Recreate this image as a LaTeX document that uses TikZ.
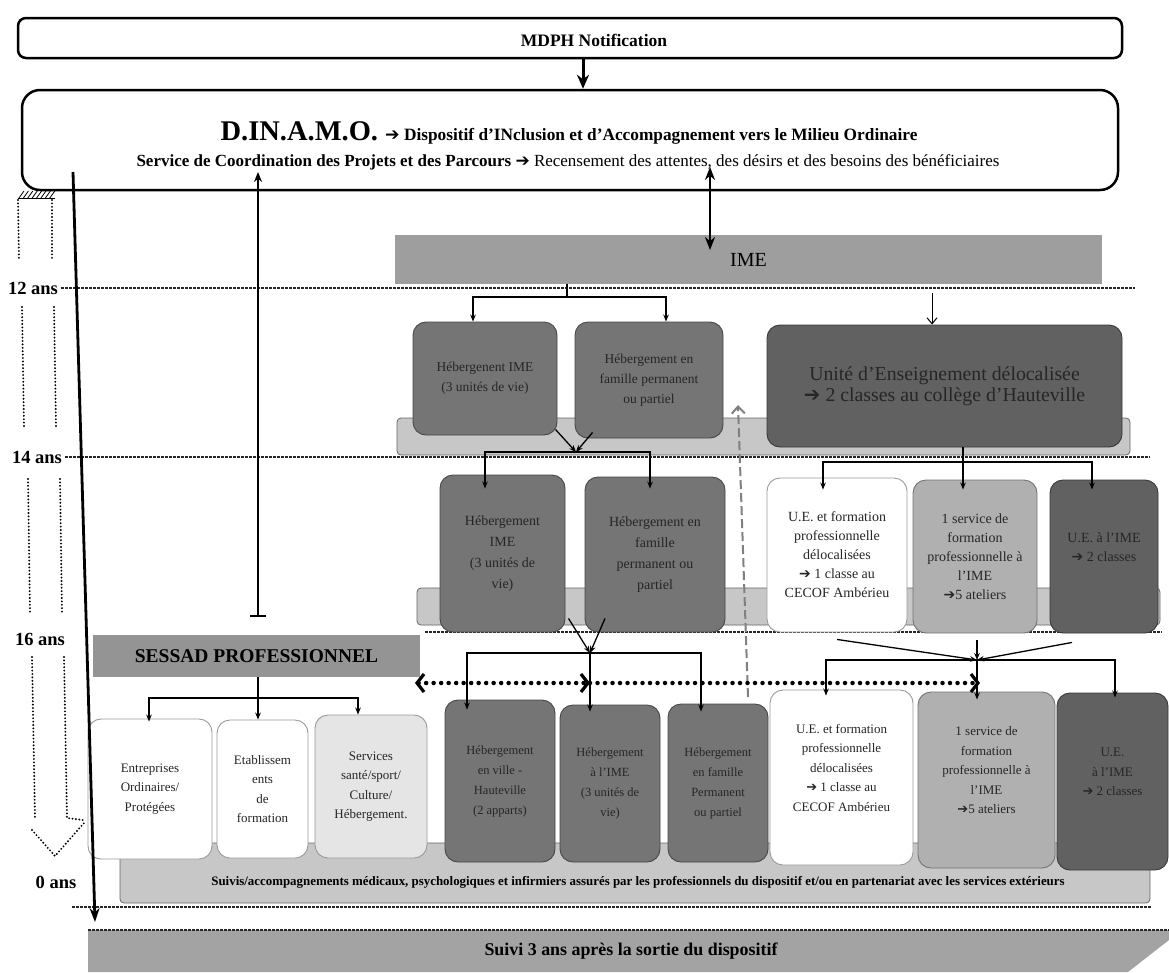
\documentclass[tikz,border=0pt]{standalone}
\usepackage{fontspec}
\setmainfont{Liberation Serif}
\newfontfamily\djv{DejaVu Sans}
\usetikzlibrary{arrows.meta,calc}
\newcommand\harr{{\djv\char"2794}}
\begin{document}
\begin{tikzpicture}[x=1pt,y=-1pt,
  box/.style={rounded corners=13pt, line width=0.9pt, align=center, inner sep=2pt, font=\fontsize{13.5}{20}\selectfont, text=black!85},
  dk/.style={box, draw=black!72, fill=black!54},
  dkk/.style={box, draw=black!78, fill=black!62},
  wt/.style={box, draw=black!40, fill=white},
  lt/.style={box, draw=black!55, fill=black!31},
  vl/.style={box, draw=black!40, fill=black!10},
  band/.style={rounded corners=4pt, draw=black!60, line width=0.8pt, fill=black!22},
  bar/.style={fill=black!38, inner sep=0pt},
  arr/.style={line width=1.3pt, -{Stealth[length=7pt,width=5.5pt]}},
  ln/.style={line width=1.3pt},
  big/.style={line width=3pt, -{Stealth[length=14pt,width=12pt]}},
  ageline/.style={line width=1.1pt, dash pattern=on 2.5pt off 1.5pt, black!85},
  agetxt/.style={font=\bfseries\fontsize{18.5}{20}\selectfont},
  dotl/.style={line width=2.1pt, line cap=round, dash pattern=on 0pt off 3.4pt},
  fat/.style={line width=4.5pt, line cap=round, dash pattern=on 0pt off 7.5pt},
  barb/.tip={Straight Barb[length=7pt,width=18pt,line width=3.2pt]},
  r1/.style={font=\fontsize{13.5}{20}\selectfont},
  r2/.style={font=\fontsize{14}{21}\selectfont},
  r2b/.style={font=\fontsize{14}{19}\selectfont},
  r3/.style={font=\fontsize{12.5}{20}\selectfont},
  r3b/.style={font=\fontsize{13}{19.5}\selectfont},
]
\useasboundingbox (0,0) rectangle (1169,972);

% ---------- age lines and labels
\node[agetxt] (a12) at (33,288) {12 ans};
\node[agetxt] (a14) at (37,457) {14 ans};
\node[agetxt] (a16) at (40,639) {16 ans};
\node[agetxt] (a0) at (56,882) {0 ans};
\draw[ageline] (a12.east) -- (1135,288);
\draw[ageline] (a14.east) -- (1150,457);
\draw[ageline] (425,632) -- (1162,632);
\draw[ageline] (72,907) -- (1152,907);

% ---------- left dotted block arrow
\draw[dotl] (18,200) -- (19,259);
\draw[dotl] (52,200) -- (52,259);
\draw[dotl] (22,307) -- (24,426);
\draw[dotl] (54,307) -- (56,426);
\draw[dotl] (28,479) -- (30,614);
\draw[dotl] (60,479) -- (62,614);
\draw[dotl] (32,657) -- (35,818);
\draw[dotl] (64,657) -- (67,818) -- (83,820);
\draw[dotl] (32,830) -- (55,856) -- (84,823);
\foreach \i in {0,...,7} \draw[line width=0.8pt] (19+4.4*\i,198) -- (24+4.4*\i,191);
\draw[line width=0.8pt] (18,198) -- (55,198);

% ---------- top boxes
\node[draw, line width=2.5pt, rounded corners=8pt, minimum width=1104pt, minimum height=40pt] (mdph) at (570,38) {};
\node[font=\bfseries\fontsize{17.5}{20}\selectfont] (mdphtxt) at (594,40) {MDPH Notification};
\node[draw, line width=2.5pt, rounded corners=18pt, minimum width=1096pt, minimum height=100pt] (dinamo) at (570,140) {};
\node (dl1) at (569,133) {\bfseries\fontsize{28.5}{32}\selectfont D.IN.A.M.O. \fontsize{17.3}{20}\selectfont\harr{} Dispositif d’INclusion et d’Accompagnement vers le Milieu Ordinaire};
\node (dl2) at (568,162) {\fontsize{17}{19}\selectfont\textbf{Service de Coordination des Projets et des Parcours} \harr{} Recensement des attentes, des désirs et des besoins des bénéficiaires};
\draw[big] (mdph.south -| 583,0) -- (dinamo.north -| 583,0);

% ---------- IME
\node[bar, minimum width=707pt, minimum height=49pt, font=\fontsize{20}{22}\selectfont] (ime) at (748.5,259.5) {\raisebox{-5pt}{IME}};
\coordinate (da) at (710,167);
\coordinate (db) at (710,250);
\draw[line width=2.8pt, {Stealth[length=13pt,width=10pt]}-{Stealth[length=13pt,width=10pt]}] (da) -- (db);

% ---------- bands
\node[band, minimum width=733pt, minimum height=37pt] (band1) at (763.5,436.5) {};
\node[band, minimum width=743pt, minimum height=37pt] (band2) at (788.5,606.5) {};
\node[band, minimum width=1030pt, minimum height=60pt] (band3) at (635,873) {};
\node[font=\bfseries\fontsize{12.9}{14}\selectfont] (suivis) at (638,882) {Suivis/accompagnements médicaux, psychologiques et infirmiers assurés par les professionnels du dispositif et/ou en partenariat avec les services extérieurs};

% ---------- row 1
\node[dk, r1, minimum width=144pt, minimum height=113pt] (h1) at (485,378.5) {Hébergenent IME\\(3 unités de vie)};
\node[dk, r1, minimum width=148pt, minimum height=116pt] (f1) at (649,380) {Hébergement en\\famille permanent\\ou partiel};
\node[dkk, font=\fontsize{19.8}{21.5}\selectfont, minimum width=355pt, minimum height=122pt] (ue1) at (944.5,386) {Unité d’Enseignement délocalisée\\\harr{} 2 classes au collège d’Hauteville};

% ---------- row 2
\node[dk, r2, minimum width=125pt, minimum height=157pt] (h2) at (502.5,553.5) {Hébergement\\IME\\(3 unités de\\vie)};
\node[dk, r2, minimum width=140pt, minimum height=155pt] (f2) at (655,554.5) {Hébergement en\\famille\\permanent ou\\partiel};
\node[wt, r2b, minimum width=140pt, minimum height=154pt] (ue2) at (837,555) {U.E. et formation\\professionnelle\\délocalisées\\\harr{} 1 classe au\\CECOF Ambérieu};
\node[lt, r2b, minimum width=124pt, minimum height=153pt] (sf2) at (975,556.5) {1 service de\\formation\\professionnelle à\\l’IME\\\harr 5 ateliers};
\node[dkk, r2b, minimum width=108pt, minimum height=153pt] (ui2) at (1104,556.5) {U.E. à l’IME\\\harr{} 2 classes\\\mbox{}};

% ---------- SESSAD + row 3
\node[bar, fill=black!42, minimum width=327pt, minimum height=42pt, font=\bfseries\fontsize{19.5}{22}\selectfont] (sessad) at (256.5,656) {SESSAD PROFESSIONNEL};
\node[wt, r3b, minimum width=124pt, minimum height=140pt] (ent) at (150,789) {Entreprises\\Ordinaires/\\Protégées};
\node[wt, r3b, minimum width=91pt, minimum height=138pt] (eta) at (262.5,789) {Etablissem\\ents\\de\\formation};
\node[vl, r3b, minimum width=112pt, minimum height=143pt] (ser) at (371,786.5) {Services\\santé/sport/\\Culture/\\Hébergement.};
\node[dk, r3, minimum width=110pt, minimum height=162pt] (hv) at (500,781) {Hébergement\\en ville -\\Hauteville\\(2 apparts)};
\node[dk, r3, minimum width=100pt, minimum height=157pt] (hi) at (610,783.5) {Hébergement\\à l’IME\\(3 unités de\\vie)};
\node[dk, r3, minimum width=100pt, minimum height=158pt] (hf) at (718,783) {Hébergement\\en famille\\Permanent\\ou partiel};
\node[wt, r3b, minimum width=143pt, minimum height=175pt] (ue3) at (841.5,777.5) {U.E. et formation\\professionnelle\\délocalisées\\\harr{} 1 classe au\\CECOF Ambérieu\\\mbox{}};
\node[lt, r3b, minimum width=137pt, minimum height=176pt] (sf3) at (986.5,780) {1 service de\\formation\\professionnelle à\\l’IME\\\harr 5 ateliers\\\mbox{}};
\node[dkk, r3b, minimum width=111pt, minimum height=177pt] (ui3) at (1112.5,781.5) {U.E.\\à l’IME\\\harr{} 2 classes\\\mbox{}};

% ---------- Suivi bar
\fill[black!36] (88,930) -- (1169,930) -- (1169,940) -- (1128,972) -- (88,972) -- cycle;
\draw[ageline] (88,930) -- (1169,930);
\node[font=\bfseries\fontsize{17.9}{19}\selectfont] (suivi) at (631,951) {Suivi 3 ans après la sortie du dispositif};

% ---------- connectors
\coordinate (la) at (73,172);
\coordinate (lb) at (95,922);
\draw[line width=2.8pt, -{Stealth[length=14pt,width=10pt]}] (la) -- (lb);
\coordinate (sb) at (258,617);
\coordinate (st) at (258,172);
\draw[line width=1.7pt, {Bar[width=16pt,line width=1.7pt]}-{Stealth[length=10pt,width=8pt]}] (sb) -- (st);

\coordinate (j1) at (567,297);
\draw[ln] (ime.south -| j1) -- (j1);
\draw[arr] (j1) -| (h1.north -| 473,0);
\draw[arr] (j1) -| (f1.north -| 666,0);
\coordinate (j1b) at (932,293);
\draw[line width=1pt, -{Straight Barb[length=6pt,width=10pt]}] (j1b) -- (ue1.north -| j1b);

\coordinate (j2) at (576,452);
\draw[arr] ($(h1.south east)+(-2,-6)$) -- (j2);
\draw[arr] ($(f1.south west)+(18,-6)$) -- (j2);
\draw[arr] (j2) -| ($(h2.north -| 485,0)+(0,14)$);
\draw[arr] (j2) -| ($(f2.north -| 650,0)+(0,12)$);

\coordinate (j3) at (963,462);
\draw[ln] (ue1.south -| j3) -- (j3);
\draw[arr] (j3) -| ($(ue2.north -| 823,0)+(0,12)$);
\draw[arr] (j3) -- ($(sf2.north -| j3)+(0,10)$);
\draw[arr] (j3) -| ($(ui2.north -| 1092,0)+(0,10)$);

\coordinate (g1) at (748,697);
\coordinate (g2) at (738,405);
\draw[black!50, line width=2pt, dash pattern=on 9pt off 4pt, -{Straight Barb[length=7pt,width=13pt]}] (g1) -- (g2);

\coordinate (j4) at (590,653);
\draw[arr] ($(h2.south)+(66,-14)$) -- (j4);
\draw[arr] ($(f2.south)+(-50,-14)$) -- (j4);
\draw[arr] (j4) -| ($(hv.north -| 467,0)+(0,10)$);
\draw[arr] (j4) -- ($(hi.north -| j4)+(0,7)$);
\draw[arr] (j4) -| ($(hf.north -| 701,0)+(0,8)$);

\coordinate (j5) at (977,660);
\draw[arr] ($(ue2.south)+(0,7)$) -- (j5);
\draw[arr] ($(ui2.south)+(-32,9)$) -- (j5);
\draw[arr] ($(sf2.south -| j5)+(0,7)$) -- (j5);
\draw[arr] (j5) -| ($(ue3.north -| 826,0)+(0,6)$);
\draw[arr] (j5) -- ($(sf3.north -| j5)+(0,8)$);
\draw[arr] (j5) -| ($(ui3.north -| 1115,0)+(0,5)$);

\coordinate (j6) at (258,698);
\draw[ln] (sessad.south -| j6) -- (j6);
\draw[arr] (j6) -| ($(ent.north -| 149,0)+(0,3)$);
\draw[arr] (j6) -- (eta.north -| j6);
\draw[arr] (j6) -| (ser.north -| 358,0);

\coordinate (d1) at (415,683);
\coordinate (d2) at (590,683);
\coordinate (d3) at (980,683);
\draw[fat, {barb}-{barb}] (d1) -- (d2);
\draw[fat, -{barb}] (d2) -- (d3);
\end{tikzpicture}
\end{document}
